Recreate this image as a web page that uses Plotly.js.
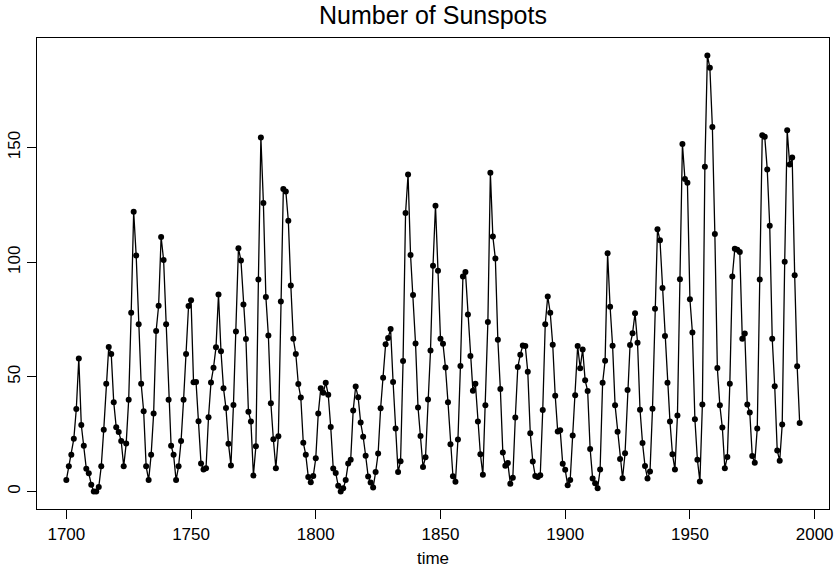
<!DOCTYPE html>
<html>
<head>
<meta charset="utf-8">
<script src="https://cdn.plot.ly/plotly-3.0.1.min.js"></script>
<style>html,body{margin:0;padding:0;background:#fff;}#chart{width:839px;height:568px;}</style>
</head>
<body>
<div id="chart"></div>
<script>
const startYear = 1700;
const sunspots = [
  5.0, 11.0, 16.0, 23.0, 36.0, 58.0, 29.0, 20.0, 10.0, 8.0,
  3.0, 0.0, 0.0, 2.0, 11.0, 27.0, 47.0, 63.0, 60.0, 39.0,
  28.0, 26.0, 22.0, 11.0, 21.0, 40.0, 78.0, 122.0, 103.0, 73.0,
  47.0, 35.0, 11.0, 5.0, 16.0, 34.0, 70.0, 81.0, 111.0, 101.0,
  73.0, 40.0, 20.0, 16.0, 5.0, 11.0, 22.0, 40.0, 60.0, 80.9,
  83.4, 47.7, 47.8, 30.7, 12.2, 9.6, 10.2, 32.4, 47.6, 54.0,
  62.9, 85.9, 61.2, 45.1, 36.4, 20.9, 11.4, 37.8, 69.8, 106.1,
  100.8, 81.6, 66.5, 34.8, 30.6, 7.0, 19.8, 92.5, 154.4, 125.9,
  84.8, 68.1, 38.5, 22.8, 10.2, 24.1, 82.9, 132.0, 130.9, 118.1,
  89.9, 66.6, 60.0, 46.9, 41.0, 21.3, 16.0, 6.4, 4.1, 6.8,
  14.5, 34.0, 45.0, 43.1, 47.5, 42.2, 28.1, 10.1, 8.1, 2.5,
  0.0, 1.4, 5.0, 12.2, 13.9, 35.4, 45.8, 41.1, 30.1, 23.9,
  15.6, 6.6, 4.0, 1.8, 8.5, 16.6, 36.3, 49.6, 64.2, 67.0,
  70.9, 47.8, 27.5, 8.5, 13.2, 56.9, 121.5, 138.3, 103.2, 85.7,
  64.6, 36.7, 24.2, 10.7, 15.0, 40.1, 61.5, 98.5, 124.7, 96.3,
  66.6, 64.5, 54.1, 39.0, 20.6, 6.7, 4.3, 22.7, 54.8, 93.8,
  95.8, 77.2, 59.1, 44.0, 47.0, 30.5, 16.3, 7.3, 37.6, 74.0,
  139.0, 111.2, 101.6, 66.2, 44.7, 17.0, 11.3, 12.4, 3.4, 6.0,
  32.3, 54.3, 59.7, 63.7, 63.5, 52.2, 25.4, 13.1, 6.8, 6.3,
  7.1, 35.6, 73.0, 85.1, 78.0, 64.0, 41.8, 26.2, 26.7, 12.1,
  9.5, 2.7, 5.0, 24.4, 42.0, 63.5, 53.8, 62.0, 48.5, 43.9,
  18.6, 5.7, 3.6, 1.4, 9.6, 47.4, 57.1, 103.9, 80.6, 63.6,
  37.6, 26.1, 14.2, 5.8, 16.7, 44.3, 63.9, 69.0, 77.8, 64.9,
  35.7, 21.2, 11.1, 5.7, 8.7, 36.1, 79.7, 114.4, 109.6, 88.8,
  67.8, 47.5, 30.6, 16.3, 9.6, 33.2, 92.6, 151.6, 136.3, 134.7,
  83.9, 69.4, 31.5, 13.9, 4.4, 38.0, 141.7, 190.2, 184.8, 159.0,
  112.3, 53.9, 37.6, 27.9, 10.2, 15.1, 47.0, 93.8, 105.9, 105.5,
  104.5, 66.6, 68.9, 38.0, 34.5, 15.5, 12.6, 27.5, 92.5, 155.4,
  154.7, 140.5, 115.9, 66.6, 45.9, 17.9, 13.4, 29.2, 100.2, 157.6,
  142.6, 145.7, 94.3, 54.6, 29.9
];
const xTicks = [1700, 1750, 1800, 1850, 1900, 1950, 2000];
const yTicks = [0, 50, 100, 150];

const years = sunspots.map((_, i) => startYear + i);

const font = {family: 'Liberation Sans, Arial, sans-serif', color: '#000'};

Plotly.newPlot('chart', [{
  x: years,
  y: sunspots,
  type: 'scatter',
  mode: 'lines+markers',
  line: {color: '#000', width: 1.3},
  marker: {color: '#000', size: 6},
  hoverinfo: 'x+y'
}], {
  width: 839,
  height: 568,
  margin: {l: 37, r: 10, t: 38, b: 59},
  paper_bgcolor: '#fff',
  plot_bgcolor: '#fff',
  showlegend: false,
  font: Object.assign({size: 17}, font),
  title: {text: 'Number of Sunspots', font: Object.assign({size: 25}, font),
          x: 0.5, xref: 'paper', y: 1 - 15 / 568, yref: 'container', yanchor: 'middle'},
  xaxis: {
    range: [1688.24, 2005.76],
    tickvals: xTicks, ticktext: xTicks.map(String),
    ticks: 'outside', ticklen: 9, tickwidth: 1, tickcolor: '#000',
    showline: true, mirror: true, linecolor: '#000', linewidth: 1.2,
    showgrid: false, zeroline: false,
    tickfont: Object.assign({size: 17}, font),
    title: {text: 'time', font: Object.assign({size: 17}, font), standoff: 10}
  },
  yaxis: {
    range: [-7.608, 197.808],
    tickvals: yTicks, ticktext: yTicks.map(String),
    tickangle: -90,
    ticks: 'outside', ticklen: 9, tickwidth: 1, tickcolor: '#000',
    showline: true, mirror: true, linecolor: '#000', linewidth: 1.2,
    showgrid: false, zeroline: false,
    tickfont: Object.assign({size: 17}, font)
  }
}, {displayModeBar: false, staticPlot: true});
</script>
</body>
</html>
